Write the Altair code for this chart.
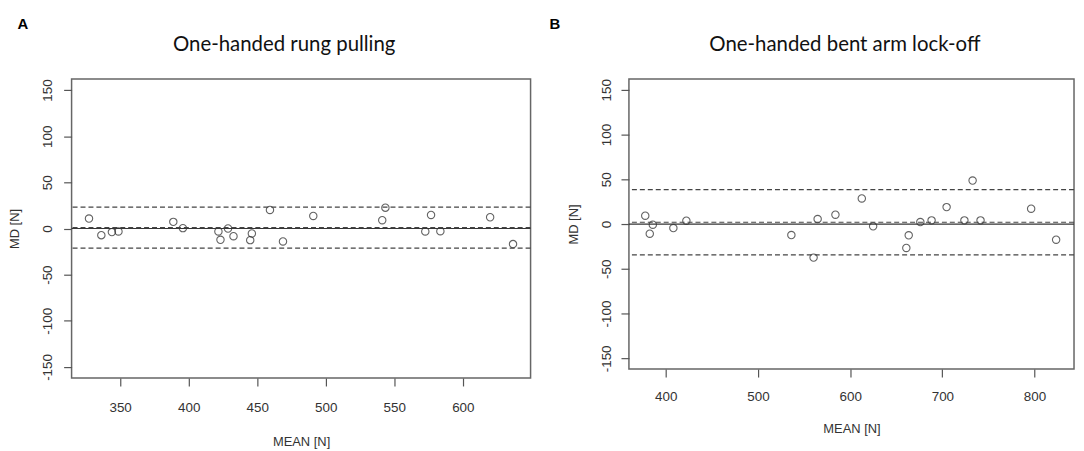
import altair as alt
import pandas as pd

# Panel A: One-handed rung pulling
a_mean = [327.3, 336.3, 344.0, 348.8, 388.8, 395.8, 421.7, 423.2, 428.7, 432.7, 444.9,
          446.1, 459.3, 468.8, 490.9, 541.2, 543.5, 572.6, 576.8, 583.6, 619.9, 636.6]
a_diff = [10.8, -7.2, -3.9, -3.2, 7.2, 0.4, -3.2, -12.2, 0.0, -8.3, -12.6,
          -5.4, 20.1, -14.0, 13.6, 9.0, 22.6, -3.2, 14.7, -2.9, 12.2, -16.9]
a_lines = [0.9, 23.1, -21.3]   # mean difference, upper and lower limits

# Panel B: One-handed bent arm lock-off
b_mean = [377.7, 382.6, 385.9, 408.2, 422.3, 536.2, 560.3, 564.7, 584.0, 612.6, 624.9,
          660.9, 663.5, 676.1, 688.3, 704.6, 723.9, 732.8, 741.4, 796.3, 823.4]
b_diff = [9.3, -10.8, -0.7, -4.5, 3.7, -12.3, -37.5, 5.6, 10.4, 28.6, -2.6,
          -26.7, -12.6, 2.2, 4.1, 18.9, 4.1, 48.6, 4.1, 17.1, -17.5]
b_lines = [2.0, 38.5, -34.5]

y_ticks = [-150, -100, -50, 0, 50, 100, 150]
a_xticks = [350, 400, 450, 500, 550, 600]
b_xticks = [400, 500, 600, 700, 800]

MINUS_FIX = "replace(datum.label, '\u2212', '-')"


def panel(mean, diff, lines, xdom, xticks, w, h, title, tx, letter, ldx, ylp, xlp, xtp):
    df = pd.DataFrame({"mean": mean, "diff": diff})
    x = alt.X("mean:Q", scale=alt.Scale(domain=xdom, nice=False, zero=False),
              axis=alt.Axis(values=xticks, title="MEAN [N]", labelPadding=xlp,
                            titlePadding=xtp, labelFlush=False))
    y = alt.Y("diff:Q", scale=alt.Scale(domain=[-162, 162], nice=False, zero=False),
              axis=alt.Axis(values=y_ticks, title="MD [N]", labelAngle=-90,
                            labelPadding=ylp, titlePadding=19, labelFlush=False,
                            labelExpr=MINUS_FIX))
    pts = alt.Chart(df).mark_point(shape="circle", filled=False, size=55,
                                   color="#222222", strokeWidth=1.1).encode(x=x, y=y)
    zero = alt.Chart(pd.DataFrame({"diff": [0]})).mark_rule(
        color="#333333", strokeWidth=1.2).encode(y="diff:Q")
    dashed = alt.Chart(pd.DataFrame({"diff": lines})).mark_rule(
        color="#444444", strokeWidth=1.2, strokeDash=[5, 3]).encode(y="diff:Q")
    ttl = alt.Chart(pd.DataFrame({"t": [title]})).mark_text(
        font="Lato", fontSize=20.5, align="center", baseline="alphabetic",
        color="#111111").encode(text="t:N", x=alt.value(tx), y=alt.value(-28))
    return alt.layer(pts, zero, dashed, ttl).properties(
        width=w, height=h,
        title=alt.TitleParams(letter, frame="group", anchor="start", dx=ldx,
                              offset=3, font="Liberation Sans", fontSize=15,
                              fontWeight="bold", color="#000000"))


pA = panel(a_mean, a_diff, a_lines, [314.6, 649.4], a_xticks, 462, 301,
           "One-handed rung pulling", 214, "A", -54.5, 9, 15, 21)
pB = panel(b_mean, b_diff, b_lines, [360.0, 842.8], b_xticks, 448, 292,
           "One-handed bent arm lock-off", 217.4, "B", -80, 8, 13, 19)

chart = alt.hconcat(pA, pB, spacing=16).properties(
    padding={"left": 0, "top": 7, "right": 0, "bottom": 0}
).configure_view(
    stroke="#666666", strokeWidth=1.5
).configure_axis(
    domain=False, grid=False, tickColor="#555555", tickSize=8, tickWidth=1.2,
    labelFont="Liberation Sans", labelFontSize=13.5, labelColor="#333333",
    titleFont="Liberation Sans", titleFontSize=13, titleFontWeight="normal",
    titleColor="#333333"
)

chart.save("out.html", embed_options={"renderer": "svg", "actions": False})
